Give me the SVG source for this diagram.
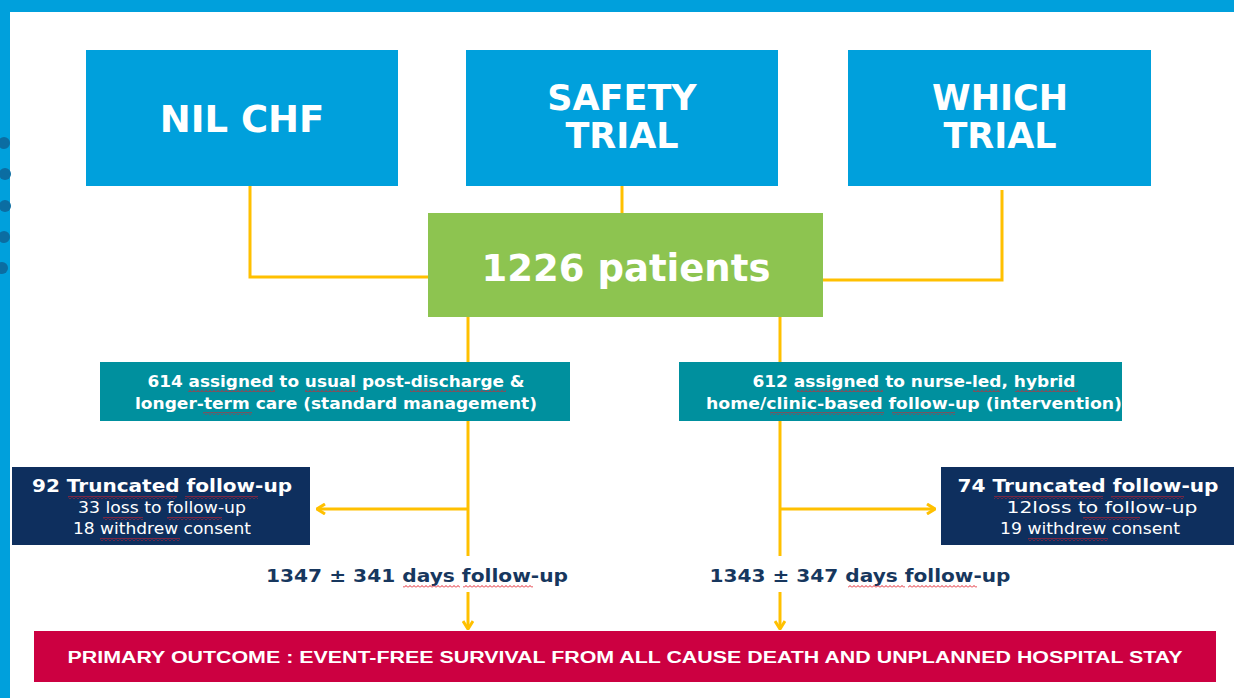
<svg xmlns="http://www.w3.org/2000/svg" width="1234" height="698" viewBox="0 0 1234 698">
  <style>
    .trial { fill: #00A0DC; }
    .hdr { font-family: "DejaVu Sans", Verdana, sans-serif; font-weight: bold; fill: #FFFFFF; text-anchor: middle; }
    .big { font-size: 37px; }
    .two { font-size: 35px; }
    .arm { font-family: "DejaVu Sans", Verdana, sans-serif; font-weight: bold; font-size: 16px; fill: #FFFFFF; text-anchor: middle; }
    .lossT { font-family: "DejaVu Sans", Verdana, sans-serif; font-weight: bold; font-size: 17px; fill: #FFFFFF; text-anchor: middle; }
    .loss { font-family: "DejaVu Sans", Verdana, sans-serif; font-size: 15px; fill: #FFFFFF; text-anchor: middle; }
    .fu { font-family: "DejaVu Sans", Verdana, sans-serif; font-weight: bold; font-size: 18px; fill: #17375E; text-anchor: middle; }
    .outc { font-family: "Liberation Sans", Arial, sans-serif; font-weight: bold; font-size: 16px; fill: #FFFFFF; text-anchor: middle; }
    .link { fill: none; stroke: #FFC000; stroke-width: 3; }
    .sq { fill: url(#squiggle); }
  </style>
  <defs>
    <marker id="chev" viewBox="0 0 10 12" refX="9" refY="6" markerWidth="10" markerHeight="12" markerUnits="userSpaceOnUse" orient="auto">
      <path d="M1,1 L9,6 L1,11" fill="none" stroke="#FFC000" stroke-width="3" stroke-linejoin="miter"/>
    </marker>
    <pattern id="squiggle" x="0" y="0" width="4" height="3" patternUnits="userSpaceOnUse">
      <path d="M0,2.5 L2,0.5 L4,2.5" fill="none" stroke="#E0202A" stroke-width="1"/>
    </pattern>
  </defs>

  <!-- slide frame -->
  <rect x="0" y="0" width="1234" height="698" fill="#FFFFFF"/>
  <rect x="0" y="0" width="1234" height="12" fill="#00A0DC"/>
  <rect x="0" y="0" width="10" height="698" fill="#00A0DC"/>
  <g fill="#0B6DA2">
    <circle cx="4" cy="143" r="6"/>
    <circle cx="5" cy="174" r="6"/>
    <circle cx="5" cy="206" r="6"/>
    <circle cx="4" cy="237" r="6"/>
    <circle cx="2" cy="268" r="6"/>
  </g>

  <!-- connectors -->
  <g id="connectors">
    <path class="link" d="M250,186 V277 H428"/>
    <path class="link" d="M622,186 V213"/>
    <path class="link" d="M1002,190 V280 H823"/>
    <path class="link" d="M468,317 V556"/>
    <path class="link" d="M468,592 V629" marker-end="url(#chev)"/>
    <path class="link" d="M468,509 H317" marker-end="url(#chev)"/>
    <path class="link" d="M780,317 V556"/>
    <path class="link" d="M780,592 V629" marker-end="url(#chev)"/>
    <path class="link" d="M780,509 H935" marker-end="url(#chev)"/>
  </g>

  <g id="nil-chf">
    <rect class="trial" x="86" y="50" width="312" height="136"/>
    <text class="hdr big" x="242" y="132">NIL CHF</text>
  </g>
  <g id="safety-trial">
    <rect class="trial" x="466" y="50" width="312" height="136"/>
    <text class="hdr two" x="622" y="110">SAFETY</text>
    <text class="hdr two" x="622" y="148">TRIAL</text>
  </g>
  <g id="which-trial">
    <rect class="trial" x="848" y="50" width="303" height="136"/>
    <text class="hdr two" x="1000" y="110">WHICH</text>
    <text class="hdr two" x="1000" y="148">TRIAL</text>
  </g>

  <g id="patients">
    <rect x="428" y="213" width="395" height="104" fill="#8DC450"/>
    <text class="hdr big" x="626" y="281">1226 patients</text>
  </g>

  <g id="arm-standard">
    <rect x="100" y="362" width="470" height="59" fill="#00909E"/>
    <text class="arm" x="336" y="387" textLength="377" lengthAdjust="spacingAndGlyphs">614 assigned to usual post-discharge &amp;</text>
    <text class="arm" x="336" y="409" textLength="402" lengthAdjust="spacingAndGlyphs">longer-term care (standard management)</text>
    <rect class="sq" x="188" y="389" width="87" height="3"/>
    <rect class="sq" x="305" y="389" width="53" height="3"/>
    <rect class="sq" x="410" y="389" width="96" height="3"/>
    <rect class="sq" x="203" y="412" width="49" height="3"/>
  </g>

  <g id="arm-intervention">
    <rect x="679" y="362" width="443" height="59" fill="#00909E"/>
    <text class="arm" x="914" y="387" textLength="323" lengthAdjust="spacingAndGlyphs">612 assigned to nurse-led, hybrid</text>
    <text class="arm" x="914" y="409" textLength="416" lengthAdjust="spacingAndGlyphs">home/clinic-based follow-up (intervention)</text>
    <rect class="sq" x="797" y="389" width="86" height="3"/>
    <rect class="sq" x="973" y="389" width="27" height="3"/>
    <rect class="sq" x="1015" y="389" width="63" height="3"/>
    <rect class="sq" x="770" y="412" width="114" height="3"/>
    <rect class="sq" x="892" y="412" width="63" height="3"/>
  </g>

  <g id="truncated-standard">
    <rect x="12" y="467" width="298" height="78" fill="#0E2F5E"/>
    <text class="lossT" x="162" y="492" textLength="260" lengthAdjust="spacingAndGlyphs">92 Truncated follow-up</text>
    <text class="loss" x="162" y="513" textLength="168" lengthAdjust="spacingAndGlyphs">33 loss to follow-up</text>
    <text class="loss" x="162" y="534" textLength="178" lengthAdjust="spacingAndGlyphs">18 withdrew consent</text>
    <rect class="sq" x="68" y="496" width="109" height="3"/>
    <rect class="sq" x="185" y="496" width="73" height="3"/>
    <rect class="sq" x="103" y="517" width="40" height="3"/>
    <rect class="sq" x="167" y="517" width="55" height="3"/>
    <rect class="sq" x="100" y="538" width="80" height="3"/>
  </g>

  <g id="truncated-intervention">
    <rect x="941" y="467" width="293" height="78" fill="#0E2F5E"/>
    <text class="lossT" x="1088" y="492" textLength="261" lengthAdjust="spacingAndGlyphs">74 Truncated follow-up</text>
    <text class="loss" x="1102" y="513" textLength="191" lengthAdjust="spacingAndGlyphs">12loss to follow-up</text>
    <text class="loss" x="1090" y="534" textLength="180" lengthAdjust="spacingAndGlyphs">19 withdrew consent</text>
    <rect class="sq" x="994" y="496" width="109" height="3"/>
    <rect class="sq" x="1111" y="496" width="73" height="3"/>
    <rect class="sq" x="1083" y="517" width="57" height="3"/>
    <rect class="sq" x="1028" y="538" width="80" height="3"/>
  </g>

  <g id="followup-standard">
    <text class="fu" x="417" y="582" textLength="302" lengthAdjust="spacingAndGlyphs">1347 ± 341 days follow-up</text>
    <rect class="sq" x="403" y="585" width="57" height="3"/>
    <rect class="sq" x="463" y="585" width="70" height="3"/>
  </g>
  <g id="followup-intervention">
    <text class="fu" x="860" y="582" textLength="301" lengthAdjust="spacingAndGlyphs">1343 ± 347 days follow-up</text>
    <rect class="sq" x="848" y="585" width="57" height="3"/>
    <rect class="sq" x="908" y="585" width="69" height="3"/>
  </g>

  <g id="primary-outcome">
    <rect x="34" y="631" width="1182" height="51" fill="#CC0041"/>
    <text class="outc" x="625" y="663" textLength="1115" lengthAdjust="spacingAndGlyphs">PRIMARY OUTCOME : EVENT-FREE SURVIVAL FROM ALL CAUSE DEATH AND UNPLANNED HOSPITAL STAY</text>
  </g>
</svg>
